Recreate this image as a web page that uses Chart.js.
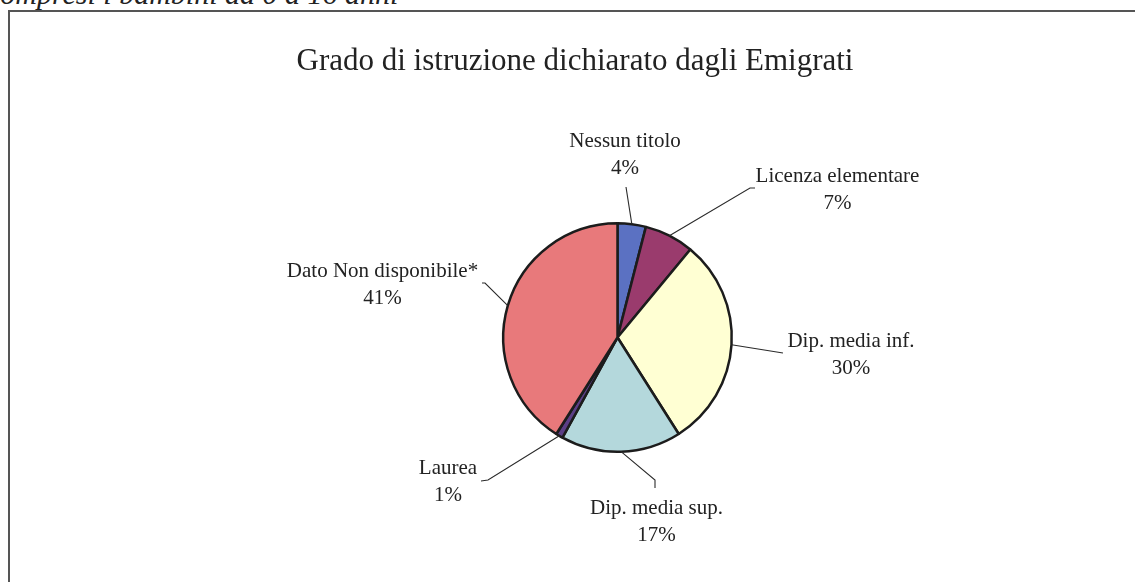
<!DOCTYPE html>
<html>
<head>
<meta charset="utf-8">
<title>Grado di istruzione dichiarato dagli Emigrati</title>
<script src="https://cdn.jsdelivr.net/npm/chart.js@4"></script>
<style>
    html, body { margin: 0; padding: 0; background: #fff; overflow: hidden; }
    #page { position: relative; width: 1135px; height: 582px; overflow: hidden; }
    #note {
        position: absolute; left: -13px; top: -21px;
        font: italic 30px/30px "Liberation Serif", "DejaVu Serif", serif;
        color: #222; white-space: nowrap;
    }
    #frame {
        position: absolute; left: 8px; top: 10px; width: 1200px; height: 700px;
        border-left: 2px solid #555; border-top: 2px solid #555;
    }
    #chart { position: absolute; left: 0; top: 0; }
</style>
</head>
<body>
<div id="page">
    <div id="note">compresi i bambini da 0 a 16 anni</div>
    <div id="frame"></div>
    <canvas id="chart" width="1135" height="582"></canvas>
</div>
<script>
// Data
const categories = [
    'Nessun titolo',
    'Licenza elementare',
    'Dip. media inf.',
    'Dip. media sup.',
    'Laurea',
    'Dato Non disponibile*'
];
const shares = [4, 7, 30, 17, 1, 41];
const sliceColors = ['#5b71c2', '#9a3b6d', '#ffffd3', '#b4d8dc', '#5c3e86', '#e8797b'];
const chartTitle = 'Grado di istruzione dichiarato dagli Emigrati';

// Label placement, offsets from the pie centre:
// text centre x, first baseline y, leader line points after the arc edge
const labelLayout = [
    { tx: 7.5,    ty: -190.5, path: [[8.5, -150.5]] },
    { tx: 220,    ty: -155.5, path: [[132.5, -149.5], [137.5, -149.5]] },
    { tx: 233.5,  ty: 9.5,    path: [[165.5, 15.5]] },
    { tx: 39,     ty: 176.5,  path: [[37.5, 142.5], [37.5, 150.5]] },
    { tx: -169.5, ty: 136.5,  path: [[-129.5, 142.5], [-136.5, 143.5]] },
    { tx: -235,   ty: -60.5,  path: [[-132.5, -54.5], [-135.5, -54.5]] }
];

const serif = '"Liberation Serif", "DejaVu Serif", serif';

// Title and callout labels
const calloutPlugin = {
    id: 'callouts',
    afterDatasetsDraw(chart) {
        const ctx = chart.ctx;
        const meta = chart.getDatasetMeta(0);
        const data = chart.data.datasets[0].data;
        const total = data.reduce((a, b) => a + b, 0);

        ctx.save();
        ctx.fillStyle = '#222';
        ctx.textAlign = 'center';
        ctx.textBaseline = 'alphabetic';
        ctx.font = '31px ' + serif;
        ctx.fillText(chartTitle, 575, 70);

        ctx.font = '21px ' + serif;
        ctx.strokeStyle = '#2a2a2a';
        ctx.lineWidth = 1.1;
        meta.data.forEach((arc, i) => {
            const p = arc.getProps(['x', 'y', 'startAngle', 'endAngle', 'outerRadius'], true);
            const mid = (p.startAngle + p.endAngle) / 2;
            const lay = labelLayout[i];

            ctx.beginPath();
            ctx.moveTo(p.x + Math.cos(mid) * p.outerRadius, p.y + Math.sin(mid) * p.outerRadius);
            lay.path.forEach(pt => ctx.lineTo(p.x + pt[0], p.y + pt[1]));
            ctx.stroke();

            const pct = Math.round(data[i] / total * 100) + '%';
            ctx.fillText(chart.data.labels[i], p.x + lay.tx, p.y + lay.ty);
            ctx.fillText(pct, p.x + lay.tx, p.y + lay.ty + 27);
        });
        ctx.restore();
    }
};

const ctx = document.getElementById('chart').getContext('2d');
const pieChart = new Chart(ctx, {
    type: 'pie',
    data: {
        labels: categories,
        datasets: [{
            data: shares,
            backgroundColor: sliceColors,
            borderColor: '#1c1c1c',
            borderWidth: 2.5
        }]
    },
    options: {
        responsive: false,
        animation: false,
        layout: {
            padding: { left: 400, right: 300, top: 222, bottom: 129 }
        },
        plugins: {
            legend: { display: false },
            tooltip: { enabled: false },
            title: { display: false }
        }
    },
    plugins: [calloutPlugin]
});
</script>
</body>
</html>
